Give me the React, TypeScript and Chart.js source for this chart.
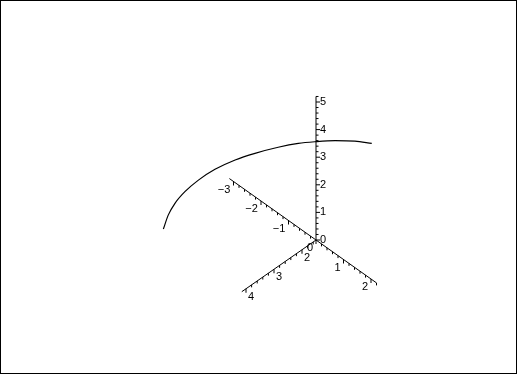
import React, { useEffect, useRef } from "react";
import { Chart, registerables } from "chart.js";

Chart.register(...registerables);

// ---- data ----
// projected curve, in units of the vertical axis (origin at the axes' crossing)
const curveX = [-5.53, -5.35, -5.11, -4.75, -4.26, -3.66, -2.93, -2.21, -1.37, -0.64, -0.04, 0.69, 1.41, 2.02];
const curveY = [0.40, 0.91, 1.33, 1.75, 2.17, 2.56, 2.90, 3.14, 3.36, 3.50, 3.56, 3.60, 3.58, 3.50];

// axis ranges
const axisARange = [-3.15, 2.2];
const axisBRange = [1.5, 4.15];
const axisZRange = [0, 5.2];

// tick labels
const axisALabels = [-3, -2, -1, 0, 1, 2];
const axisBLabels = [2, 3, 4];
const axisZLabels = [0, 1, 2, 3, 4, 5];
const minorStep = 0.2;

// ---- layout / projection constants ----
const W = 517;
const H = 374;
const INNER_W = W - 2;
const INNER_H = H - 2;
const ORIGIN_PX = { x: 315, y: 239 }; // inside canvas
const UNIT_PX = 27.6;
const A_VEC = { x: 27.5 / UNIT_PX, y: -19.5 / UNIT_PX };
const B_VEC = { x: -28 / UNIT_PX, y: -19.5 / UNIT_PX };

const X_MIN = -ORIGIN_PX.x / UNIT_PX;
const X_MAX = (INNER_W - ORIGIN_PX.x) / UNIT_PX;
const Y_MAX = ORIGIN_PX.y / UNIT_PX;
const Y_MIN = -(INNER_H - ORIGIN_PX.y) / UNIT_PX;

function proj(a: number, b: number, z: number) {
  const bb = b - axisBRange[0];
  return {
    x: a * A_VEC.x + bb * B_VEC.x,
    y: a * A_VEC.y + bb * B_VEC.y + z,
  };
}

type AxisKind = "A" | "B" | "Z";
function pointOn(kind: AxisKind, v: number) {
  if (kind === "A") return proj(v, axisBRange[0], 0);
  if (kind === "B") return proj(0, v, 0);
  return proj(0, axisBRange[0], v);
}

const FONT = "11px 'Liberation Sans', Arial, sans-serif";
const fmt = (v: number) => (v < 0 ? "\u2212" + Math.abs(v) : String(v));

const ticksPlugin = {
  id: "axisTicks",
  afterDatasetsDraw(chart: any) {
    const ctx = chart.ctx;
    const xs = chart.scales.x;
    const ys = chart.scales.y;
    const toPx = (p: { x: number; y: number }) => ({
      x: xs.getPixelForValue(p.x),
      y: ys.getPixelForValue(p.y),
    });
    ctx.save();
    ctx.strokeStyle = "#000";
    ctx.lineWidth = 1;
    const axes: [AxisKind, number[], { x: number; y: number }][] = [
      ["A", axisARange, { x: 0, y: 1 }],
      ["B", axisBRange, { x: 0, y: 1 }],
      ["Z", axisZRange, { x: 1, y: 0 }],
    ];
    for (const [kind, range, dir] of axes) {
      const start = Math.ceil(range[0] / minorStep - 1e-6);
      const end = Math.floor(range[1] / minorStep + 1e-6);
      for (let i = start; i <= end; i++) {
        const v = i * minorStep;
        const major = Math.abs(v - Math.round(v)) < 1e-6;
        const len = major ? 4 : 2.5;
        const p = toPx(pointOn(kind, v));
        ctx.beginPath();
        ctx.moveTo(p.x, p.y);
        ctx.lineTo(p.x + dir.x * len, p.y + dir.y * len);
        ctx.stroke();
      }
    }
    ctx.fillStyle = "#000";
    ctx.font = FONT;
    ctx.textBaseline = "middle";
    ctx.textAlign = "left";
    for (const v of axisZLabels) {
      const p = toPx(pointOn("Z", v));
      ctx.fillText(fmt(v), p.x + 4, p.y);
    }
    ctx.textAlign = "center";
    for (const v of axisALabels) {
      const p = toPx(pointOn("A", v));
      ctx.fillText(fmt(v), p.x + (v < 0 ? -9.5 : -6), p.y + 8);
    }
    for (const v of axisBLabels) {
      const p = toPx(pointOn("B", v));
      ctx.fillText(fmt(v), p.x + 5, p.y + 8);
    }
    ctx.restore();
  },
};

export default function App() {
  const ref = useRef<HTMLCanvasElement | null>(null);
  useEffect(() => {
    document.body.style.margin = "0";
    if (!ref.current) return;
    const curve = curveX.map((x, i) => ({ x, y: curveY[i] }));
    const line = (kind: AxisKind, r: number[]) => [pointOn(kind, r[0]), pointOn(kind, r[1])];
    const axisDs = (data: any[]) => ({
      data,
      borderColor: "#000",
      borderWidth: 1,
      pointRadius: 0,
      showLine: true,
      tension: 0,
    });
    const chart = new Chart(ref.current, {
      type: "scatter",
      data: {
        datasets: [
          axisDs(line("A", axisARange)),
          axisDs(line("B", axisBRange)),
          axisDs(line("Z", axisZRange)),
          {
            data: curve,
            borderColor: "#000",
            borderWidth: 1.2,
            pointRadius: 0,
            showLine: true,
            cubicInterpolationMode: "monotone",
          } as any,
        ],
      },
      options: {
        animation: false,
        responsive: false,
        devicePixelRatio: 1,
        layout: { padding: 0 },
        plugins: { legend: { display: false }, tooltip: { enabled: false } },
        scales: {
          x: { type: "linear", min: X_MIN, max: X_MAX, display: false },
          y: { type: "linear", min: Y_MIN, max: Y_MAX, display: false },
        },
      },
      plugins: [ticksPlugin],
    });
    return () => chart.destroy();
  }, []);
  return (
    <div
      style={{
        position: "fixed",
        left: 0,
        top: 0,
        width: W,
        height: H,
        border: "1px solid #000",
        boxSizing: "border-box",
        background: "#fff",
      }}
    >
      <canvas ref={ref} width={INNER_W} height={INNER_H} style={{ display: "block", width: INNER_W, height: INNER_H }} />
    </div>
  );
}
